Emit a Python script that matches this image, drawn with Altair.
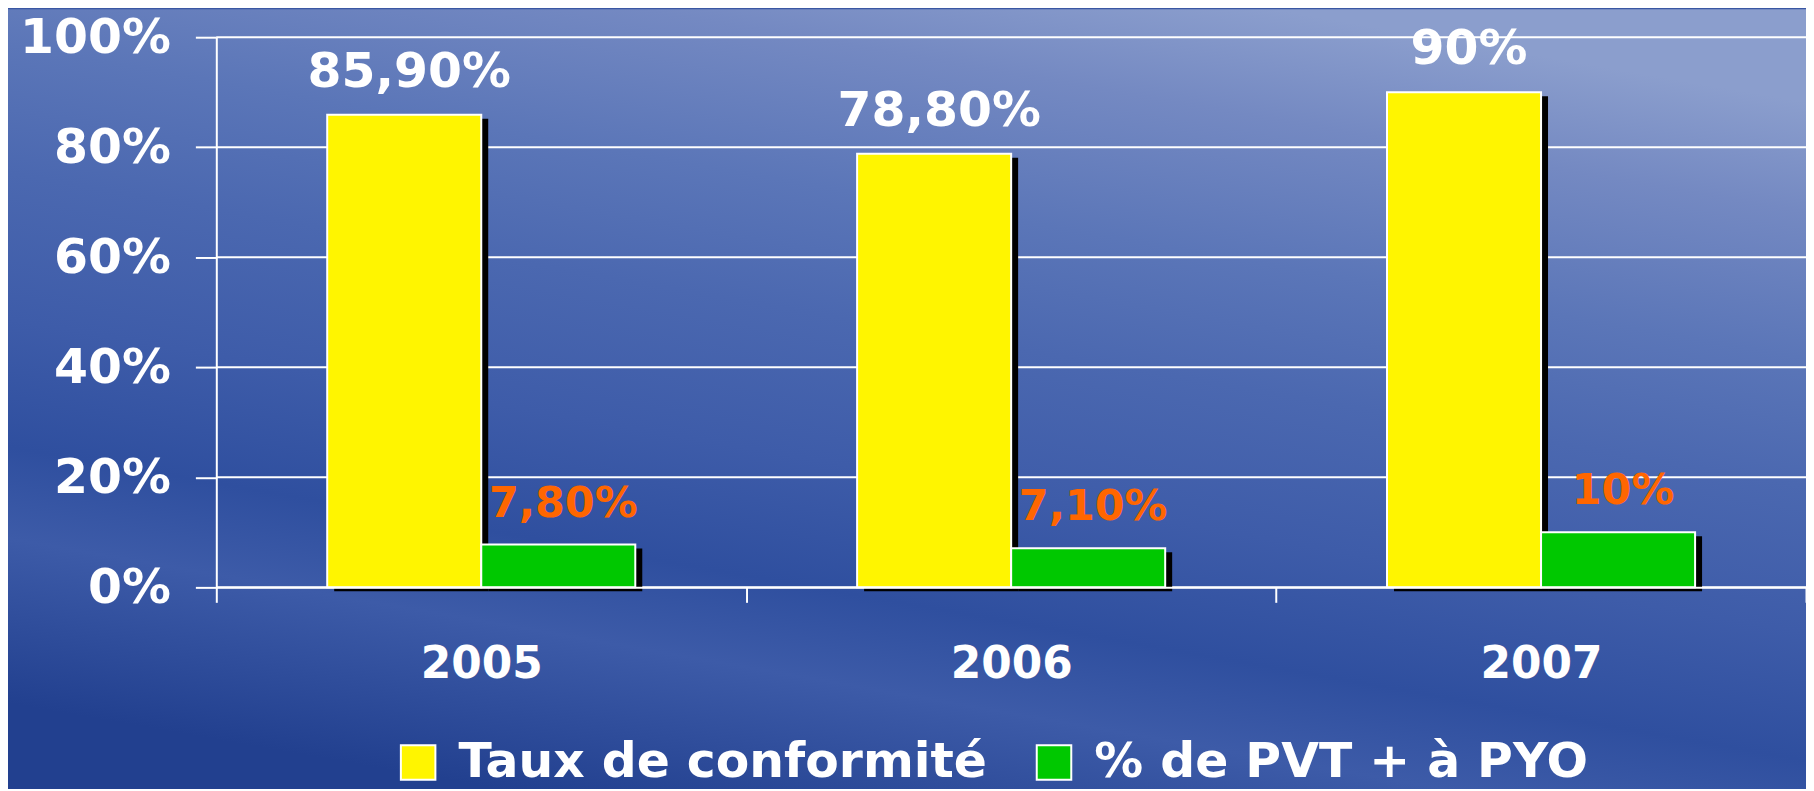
import altair as alt
import pandas as pd

years = ["2005", "2006", "2007"]
series = ["Taux de conformité", "% de PVT + à PYO"]
conformite = [0.859, 0.788, 0.90]
pvt = [0.078, 0.071, 0.10]
conformite_labels = ["85,90%", "78,80%", "90%"]
pvt_labels = ["7,80%", "7,10%", "10%"]
y_ticks = [0, 0.2, 0.4, 0.6, 0.8, 1.0]
bar_colors = ["#FFF500", "#00C800"]
label_colors = ["white", "#FF6600"]

rows = []
for i, yr in enumerate(years):
    rows.append({"year": yr, "series": series[0], "value": conformite[i], "label": conformite_labels[i]})
    rows.append({"year": yr, "series": series[1], "value": pvt[i], "label": pvt_labels[i]})
df = pd.DataFrame(rows)
grid_df = pd.DataFrame({"value": y_ticks})

W = 1595
H = 552
PL, PT, PR = 209, 28, 0
PB = 781 - PT - H
band = W / 3.0
po = 0.72

FONT = "DejaVu Sans"

x_enc = alt.X(
    "year:N",
    sort=years,
    scale=alt.Scale(paddingInner=0, paddingOuter=0),
    axis=alt.Axis(
        title=None, labelAngle=0, labelFont=FONT, labelFontWeight="bold",
        labelFontSize=44, labelColor="white", labelPadding=40,
        tickBand="extent", tickColor="white", tickSize=15, tickWidth=2,
        domainColor="white", domainWidth=2, grid=False, zindex=1,
    ),
)
y_axis = alt.Axis(
    title=None, values=y_ticks, format=".0%", labelFont=FONT,
    labelFontWeight="bold", labelFontSize=49, labelColor="white",
    labelPadding=25, tickColor="white", tickSize=21, tickWidth=2,
    domainColor="white", domainWidth=2, grid=False, zindex=1,
)
y_enc = alt.Y("value:Q", scale=alt.Scale(domain=[0, 1], nice=False), axis=y_axis)


def offset_enc(shift):
    return alt.XOffset(
        "series:N", sort=series,
        scale=alt.Scale(type="band", domain=series, paddingInner=0,
                        paddingOuter=po, range=[shift, band + shift]),
    )


bg = alt.Chart(alt.Data(values=[{"a": 1}])).mark_rect(
    fill=alt.LinearGradient(
        gradient="linear",
        stops=[
            alt.GradientStop(color="#8b9ecd", offset=0),
            alt.GradientStop(color="#7489c2", offset=0.12),
            alt.GradientStop(color="#5b76b8", offset=0.28),
            alt.GradientStop(color="#4b68b0", offset=0.42),
            alt.GradientStop(color="#3e5ca9", offset=0.58),
            alt.GradientStop(color="#2f4f9f", offset=0.72),
            alt.GradientStop(color="#3d5ba8", offset=0.82),
            alt.GradientStop(color="#22408f", offset=1),
        ],
        x1=0.7, y1=0, x2=0.3, y2=1,
    )
).encode(
    x=alt.value(-PL), x2=alt.value(W + PR + 10),
    y=alt.value(-PT), y2=alt.value(H + PB + 10),
)

grid = alt.Chart(grid_df).mark_rule(color="white", strokeWidth=2).encode(
    y=y_enc,
    x=alt.value(0), x2=alt.value(W),
)

base = alt.Chart(df)

shadow = base.mark_bar(color="black", yOffset=4, y2Offset=3).encode(
    x=x_enc,
    xOffset=offset_enc(7),
    y=y_enc,
)

bars = base.mark_bar(stroke="white", strokeWidth=2).encode(
    x=x_enc,
    xOffset=offset_enc(0),
    y=y_enc,
    color=alt.Color(
        "series:N", sort=series,
        scale=alt.Scale(domain=series, range=bar_colors),
        legend=alt.Legend(
            title=None, orient="none", legendX=178, legendY=703,
            direction="horizontal", symbolType="square", symbolSize=1200,
            symbolStrokeColor="white", symbolStrokeWidth=2, symbolOpacity=1,
            labelFont=FONT, labelFontWeight="bold", labelFontSize=49,
            labelColor="white", labelOffset=16, columnPadding=42, labelLimit=0,
        ),
    ),
)

texts = base.mark_text(font=FONT, fontWeight="bold", baseline="alphabetic",
                       dy=-28, dx=5).encode(
    x=x_enc,
    xOffset=offset_enc(0),
    y=y_enc,
    text="label:N",
    color=alt.condition(alt.datum.series == series[0], alt.value(label_colors[0]),
                        alt.value(label_colors[1])),
    size=alt.condition(alt.datum.series == series[0], alt.value(49), alt.value(43)),
)

chart = alt.layer(bg, grid, shadow, bars, texts).resolve_scale(
    xOffset="independent"
).properties(
    width=W, height=H,
    autosize=alt.AutoSizeParams(type="none"),
    padding={"left": PL, "top": PT, "right": PR, "bottom": PB},
    background="#3a57a3",
).configure_view(stroke=None)

chart.save("out.html", embed_options={"renderer": "svg", "actions": False})
